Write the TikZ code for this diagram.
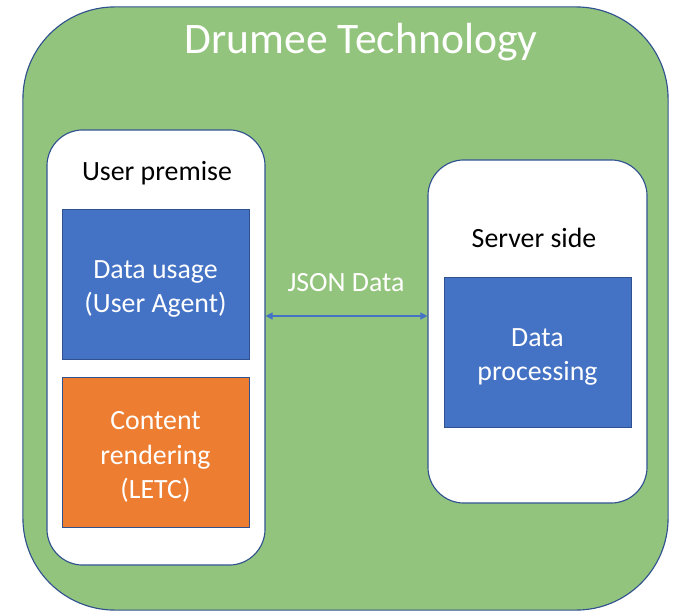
\documentclass[tikz,border=0pt]{standalone}
\usepackage{fontspec}
\setmainfont{Carlito}
\usetikzlibrary{arrows.meta}
\definecolor{drgreen}{HTML}{93C47D}
\definecolor{drblue}{HTML}{4472C4}
\definecolor{drorange}{HTML}{ED7D31}
\definecolor{drline}{HTML}{2F528F}
\tikzset{
  panel/.style={draw=drline, line width=0.8pt, fill=white, rounded corners=0.9cm},
  block/.style={draw=drline, line width=0.4pt, minimum width=4.675cm, minimum height=3.75cm},
  blocktext/.style={text=white, align=center, font=\fontsize{19.8}{24.5}\selectfont},
  label/.style={font=\fontsize{19.8}{24.5}\selectfont}
}
\begin{document}
\begin{tikzpicture}[x=0.025cm, y=-0.025cm]
      \useasboundingbox (0,0) rectangle (689,616);

      % outer frame
      \node [draw=drline, line width=0.8pt, fill=drgreen, rounded corners=2.3cm,
             minimum width=16.125cm, minimum height=15.075cm] (tech) at (345.5,308.5) {};
      \node [text=white, font=\fontsize{31}{36}\selectfont] (title) at (361,42) {Drumee Technology};

      % user side
      \node [panel, minimum width=5.45cm, minimum height=10.875cm] (user) at (156,347.5) {};
      \node [label] (userlbl) at (157,173) {User premise};
      \node [block, fill=drblue] (usage) at (155.5,284) {};
      \node [blocktext] (usagetxt) at (155.5,289) {Data usage\\(User Agent)};
      \node [block, fill=drorange] (render) at (155.5,452) {};
      \node [blocktext] (rendertxt) at (155.5,457) {Content\\rendering\\(LETC)};

      % server side
      \node [panel, minimum width=5.475cm, minimum height=8.575cm] (server) at (537.5,331.5) {};
      \node [label] (serverlbl) at (534,238) {Server side};
      \node [block, fill=drblue] (proc) at (537.5,352) {};
      \node [blocktext] (proctxt) at (537.5,357) {Data\\processing};

      % exchange
      \draw [drblue, line width=1pt, {Triangle[length=5pt,width=5pt]}-{Triangle[length=5pt,width=5pt]}]
            (user.east |- 0,316) -- (server.west |- 0,316);
      \node [text=white, label] (json) at (346,283) {JSON Data};
\end{tikzpicture}
\end{document}
